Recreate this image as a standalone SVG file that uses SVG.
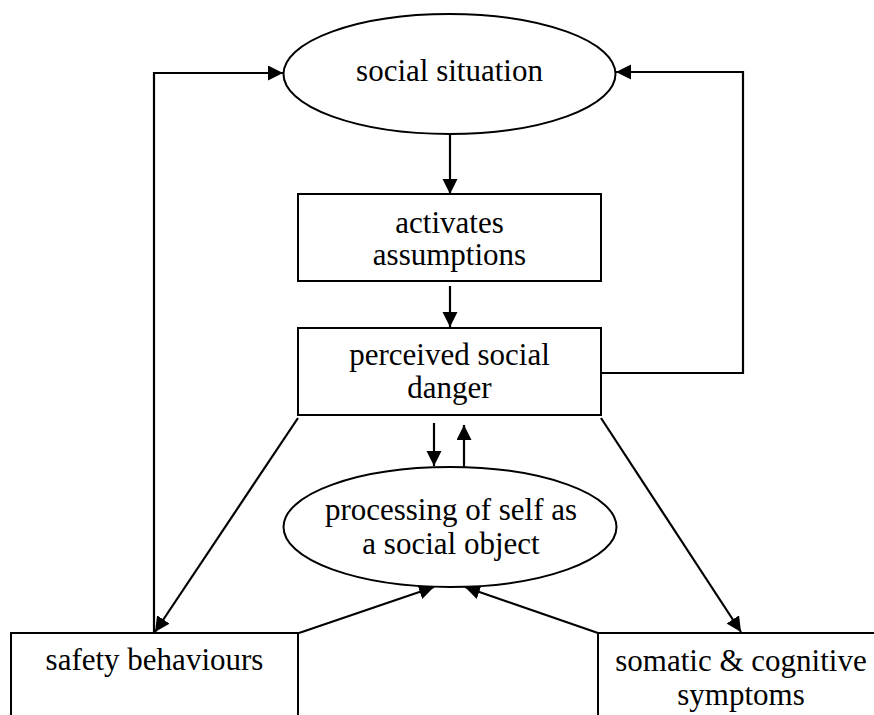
<svg xmlns="http://www.w3.org/2000/svg" width="874" height="715" viewBox="0 0 874 715">
<defs>
<style>
.shape{fill:#fff;stroke:#000;stroke-width:2}
.lbl{font-family:"Liberation Serif","Times New Roman",serif;font-size:31px;fill:#000;text-anchor:middle}
.con{fill:none;stroke:#000;stroke-width:2.2}
.arr{marker-end:url(#ah)}
</style>
<marker id="ah" markerUnits="userSpaceOnUse" markerWidth="17" markerHeight="16" refX="15" refY="7.5" orient="auto">
<path d="M0,0 L15,7.5 L0,15 z" fill="#000"/>
</marker>
</defs>
<rect width="874" height="715" fill="#fff"/>
<g id="connectors">
<path class="con arr" d="M450,134 L450,194"/>
<path class="con arr" d="M450,286 L450,327"/>
<path class="con arr" d="M601,373 L743,373 L743,72 L616,72"/>
<path class="con arr" d="M154,633 L154,73 L283,73"/>
<path class="con arr" d="M298,418 L155,632"/>
<path class="con arr" d="M601,418 L741,632"/>
<path class="con arr" d="M434,423 L434,466"/>
<path class="con arr" d="M464,467 L464,425"/>
<path class="con arr" d="M299,633 L434,587"/>
<path class="con arr" d="M598,633 L465,587"/>
</g>
<g id="social-situation">
<ellipse class="shape" cx="449.5" cy="74" rx="166" ry="60"/>
<text class="lbl" x="449.5" y="81">social situation</text>
</g>
<g id="activates-assumptions">
<rect class="shape" x="298" y="194" width="303" height="87"/>
<text class="lbl" x="449.5" y="233">activates</text>
<text class="lbl" x="449.5" y="265">assumptions</text>
</g>
<g id="perceived-social-danger">
<rect class="shape" x="298" y="328" width="303" height="87"/>
<text class="lbl" x="449.5" y="365">perceived social</text>
<text class="lbl" x="449.5" y="398">danger</text>
</g>
<g id="processing-of-self">
<ellipse class="shape" cx="450" cy="527" rx="166.5" ry="60"/>
<text class="lbl" x="451" y="520">processing of self as</text>
<text class="lbl" x="451" y="554">a social object</text>
</g>
<g id="safety-behaviours">
<rect class="shape" x="11" y="633" width="287" height="100"/>
<text class="lbl" x="154.5" y="670">safety behaviours</text>
</g>
<g id="somatic-cognitive-symptoms">
<rect class="shape" x="598" y="633" width="290" height="100"/>
<text class="lbl" x="741" y="671">somatic &amp; cognitive</text>
<text class="lbl" x="741" y="705">symptoms</text>
</g>
</svg>
